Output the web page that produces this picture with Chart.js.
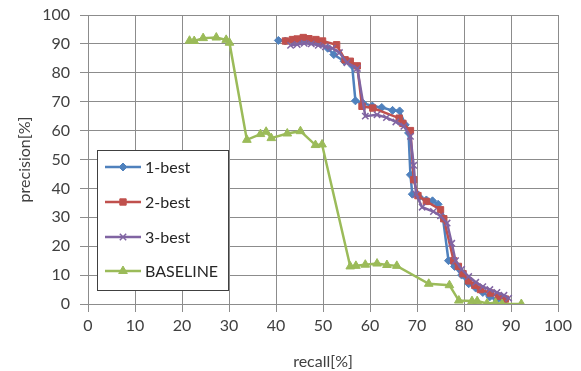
<!DOCTYPE html>
<html>
<head>
<meta charset="utf-8">
<script src="https://cdn.jsdelivr.net/npm/chart.js@4"></script>
<style>
  html, body { margin: 0; padding: 0; background: #fff; }
  #wrap { width: 581px; height: 371px; }
</style>
</head>
<body>
<div id="wrap"><canvas id="prChart"></canvas></div>
<script>
// recall / precision pairs for each run
const seriesNames = ['1-best', '2-best', '3-best', 'BASELINE'];

const oneBestRecall = [40.5, 42, 43.5, 45, 46.5, 48, 49.5, 51, 52.3, 54.5, 56.2, 56.9, 58.5, 60.5, 62.5, 64.8, 66.3, 67.5, 68.2, 68.6, 69, 70.5, 72, 73.3, 74.5, 75.5, 76.7, 78, 79.5, 81, 82.5, 84, 85.5, 87, 88.5];
const oneBestPrecision = [91.2, 91, 91.2, 91, 91.3, 90.8, 90, 88.5, 86.3, 84, 82.5, 70.3, 69.5, 68.5, 68, 67, 66.8, 62, 59.2, 44.7, 38, 37, 36, 35.7, 34.5, 30, 15, 13, 10, 7, 5.5, 4, 2.5, 1.5, 1];

const twoBestRecall = [42, 43.5, 44.5, 45.8, 47, 48.5, 49.9, 52.9, 54.7, 55.8, 57.3, 58.3, 60.6, 66.2, 67, 68.6, 69.3, 70.2, 72, 75, 75.7, 77.8, 78.8, 79.8, 81, 82.3, 83.5, 85.6, 87.3, 88.8];
const twoBestPrecision = [91, 91.5, 91.7, 92.2, 91.8, 91.5, 91, 89.7, 84.5, 84, 82.4, 68.4, 67.8, 64.3, 62.5, 60, 43, 37.5, 35.5, 32.6, 29.5, 15, 13, 10.5, 8, 6.5, 5, 3.8, 2.7, 1.7];

const threeBestRecall = [43.1, 44.5, 46, 47.5, 49, 50.5, 52, 53.5, 55.1, 57.3, 59, 61.5, 63.5, 65.5, 67.2, 68.6, 69.3, 69.8, 71.1, 73.5, 75, 76.4, 77.4, 78.2, 79.5, 81, 82.5, 84, 85.5, 87, 88.5, 89.5];
const threeBestPrecision = [89.5, 89.8, 90.2, 90, 89.5, 89, 88.5, 87, 83.5, 81.5, 65, 65.5, 64.5, 63, 61.5, 58, 48, 38, 33.5, 32, 30.5, 28, 21, 15, 12, 9.5, 7.5, 6, 5, 4, 3, 2];

const baselineRecall = [21.6, 22.6, 24.5, 27.3, 29.4, 30.1, 33.8, 36.7, 37.9, 39, 42.4, 45.2, 48.4, 49.8, 55.8, 57, 59, 61.5, 63.6, 65.7, 72.5, 76.9, 78.9, 81.7, 82.8, 84.9, 86.7, 88.1, 92.2];
const baselinePrecision = [91.1, 91, 92, 92.2, 91.4, 90.4, 56.8, 58.8, 59.6, 57.4, 59, 59.8, 55, 55.2, 13, 13.2, 13.6, 14, 13.5, 13.2, 7, 6.5, 1.2, 1, 1, 0.2, 0.4, 0, 0];

const axisTicks = [0, 10, 20, 30, 40, 50, 60, 70, 80, 90, 100];

const colors = ['#4F81BD', '#C0504D', '#8064A2', '#9BBB59'];
const markers = ['rectRot', 'rect', 'crossRot', 'triangle'];
const markerSizes = [4, 4.5, 4.5, 5];

function toPoints(xs, ys) {
  return xs.map((x, i) => ({ x: x, y: ys[i] }));
}

const allPoints = [
  toPoints(oneBestRecall, oneBestPrecision),
  toPoints(twoBestRecall, twoBestPrecision),
  toPoints(threeBestRecall, threeBestPrecision),
  toPoints(baselineRecall, baselinePrecision)
];

const datasets = seriesNames.map((name, i) => ({
  label: name,
  data: allPoints[i],
  showLine: true,
  borderColor: colors[i],
  backgroundColor: colors[i],
  borderWidth: 2.5,
  pointStyle: markers[i],
  pointRadius: markerSizes[i],
  pointBorderWidth: markers[i] === 'crossRot' ? 1.5 : 1,
  pointBorderColor: colors[i],
  pointBackgroundColor: colors[i],
  tension: 0
})).reverse(); // baseline underneath, 1-best on top

// boxed legend sitting inside the plot, lower left
const boxLegend = {
  id: 'boxLegend',
  afterDraw(chart) {
    const ctx = chart.ctx;
    const x0 = 97, y0 = 150, w = 131, h = 140;
    ctx.save();
    ctx.fillStyle = '#fff';
    ctx.fillRect(x0, y0, w, h);
    ctx.strokeStyle = '#404040';
    ctx.lineWidth = 1;
    ctx.strokeRect(x0 + 0.5, y0 + 0.5, w, h);
    const rows = [167, 202, 237, 271];
    ctx.font = '16px Lato, "Open Sans", sans-serif';
    ctx.textBaseline = 'middle';
    seriesNames.forEach((name, i) => {
      const y = rows[i];
      ctx.strokeStyle = colors[i];
      ctx.lineWidth = 2.5;
      ctx.beginPath();
      ctx.moveTo(105, y);
      ctx.lineTo(141, y);
      ctx.stroke();
      ctx.fillStyle = colors[i];
      ctx.lineWidth = markers[i] === 'crossRot' ? 1.5 : 1;
      Chart.helpers.drawPoint(ctx, { pointStyle: markers[i], radius: markerSizes[i], rotation: 0, borderWidth: 1 }, 123, y);
      ctx.fillStyle = '#262626';
      ctx.fillText(name, 145, y + 1);
    });
    ctx.restore();
  }
};

const tickFont = { family: 'Lato, "Open Sans", sans-serif', size: 16 };
const gridStyle = { color: '#8c8c8c', lineWidth: 1, tickLength: 8, drawTicks: true };

new Chart(document.getElementById('prChart'), {
  type: 'scatter',
  data: { datasets: datasets },
  options: {
    responsive: true,
    maintainAspectRatio: false,
    animation: false,
    layout: { padding: { left: 0, top: 15, right: 23, bottom: 0 } },
    plugins: {
      legend: { display: false },
      tooltip: { enabled: false }
    },
    scales: {
      x: {
        type: 'linear',
        min: 0,
        max: 100,
        afterBuildTicks: (scale) => { scale.ticks = axisTicks.map(v => ({ value: v })); },
        ticks: { color: '#404040', font: tickFont, padding: 4, maxRotation: 0 },
        grid: gridStyle,
        border: { color: '#8c8c8c' },
        title: { display: true, text: 'recall[%]', color: '#404040', font: tickFont, padding: { top: 4, bottom: 0 } },
        afterFit: (scale) => { scale.height = 67; }
      },
      y: {
        type: 'linear',
        min: 0,
        max: 100,
        afterBuildTicks: (scale) => { scale.ticks = axisTicks.map(v => ({ value: v })); },
        ticks: { color: '#404040', font: tickFont, padding: 10 },
        grid: gridStyle,
        border: { color: '#8c8c8c' },
        title: { display: true, text: 'precision[%]', color: '#404040', font: tickFont, padding: { top: 15, bottom: 0 } },
        afterFit: (scale) => {
          scale.width = 88;
          // the label padding would otherwise push the plot top down
          scale.paddingTop = 0;
          scale.paddingBottom = 0;
        }
      }
    }
  },
  plugins: [boxLegend]
});
</script>
</body>
</html>
